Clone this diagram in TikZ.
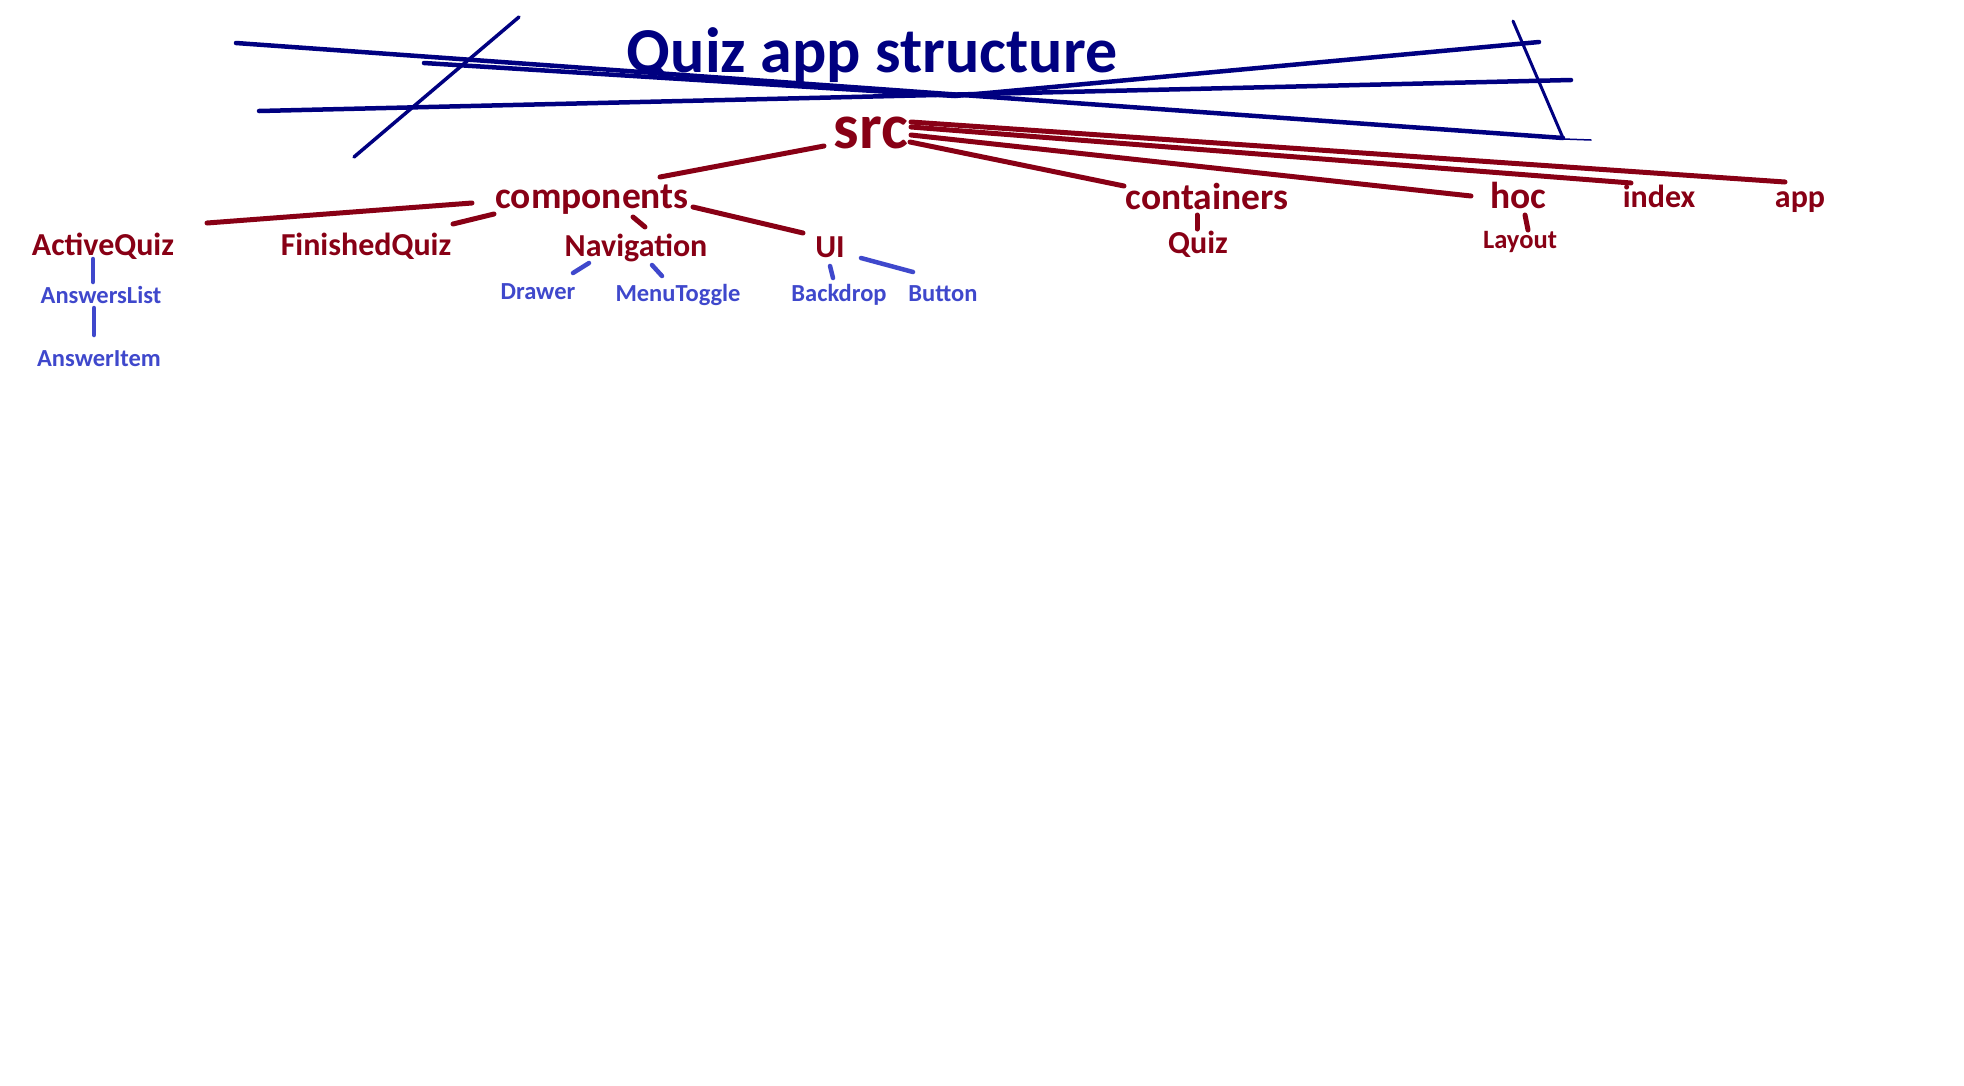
\documentclass[tikz,border=0pt]{standalone}
\usepackage{fontspec}
\setmainfont{Carlito}
\usepackage{tikz}
\definecolor{darkred}{HTML}{880015}
\definecolor{navy}{HTML}{000080}
\definecolor{leafblue}{HTML}{3F48CC}
\tikzstyle{folder} = [anchor=base, inner sep=0pt, text=darkred,
                      font=\bfseries\fontsize{32}{32}\selectfont]
\tikzstyle{bigfolder} = [folder, font=\bfseries\fontsize{37.5}{37.5}\selectfont]
\tikzstyle{leaf} = [anchor=base, inner sep=0pt, text=leafblue,
                    font=\bfseries\fontsize{24.5}{24.5}\selectfont]
\tikzstyle{branch} = [draw=darkred, line width=5pt, line cap=round]
\tikzstyle{twig} = [draw=leafblue, line width=4.5pt, line cap=round]
\tikzstyle{scribble} = [draw=navy, line width=4.5pt, line cap=round]

\begin{document}
\begin{tikzpicture}[x=1pt, y=-1pt]
    \fill [white] (0,0) rectangle (1964,1085);
    \useasboundingbox (0,0) rectangle (1964,1085);

    % title and crossing strokes
    \node [anchor=base, inner sep=0pt, text=navy,
           font=\bfseries\fontsize{64}{64}\selectfont] (title) at (872,72) {Quiz app structure};
    \draw [scribble] (236,43) -- (1563,138);
    \draw [scribble] (424,63) -- (955,96) -- (1539,42);
    \draw [scribble] (259,111) -- (1571,80);
    \draw [scribble, line width=3.5pt] (354,157) -- (519,17);
    \draw [scribble, line width=3pt] (1513,21) -- (1563,138);
    \draw [scribble, line width=1.5pt] (1563,139) -- (1591,140);

    % folders
    \node [folder, font=\bfseries\fontsize{64}{64}\selectfont] (src) at (871,148) {src};
    \node [bigfolder] (components) at (592,208) {components};
    \node [bigfolder] (containers) at (1207,209) {containers};
    \node [bigfolder] (hoc) at (1518,208) {hoc};
    \node [folder] (index) at (1659,207) {index};
    \node [folder] (app) at (1800,207) {app};
    \node [folder] (activequiz) at (103,255) {ActiveQuiz};
    \node [folder] (finishedquiz) at (366,255) {FinishedQuiz};
    \node [folder] (navigation) at (636,256) {Navigation};
    \node [folder] (ui) at (830,257) {UI};
    \node [folder] (quiz) at (1198,253) {Quiz};
    \node [folder, font=\bfseries\fontsize{26.5}{26.5}\selectfont] (layout) at (1520,248) {Layout};

    % components
    \node [leaf] (answerslist) at (101,303) {AnswersList};
    \node [leaf] (answeritem) at (99,366) {AnswerItem};
    \node [leaf] (drawer) at (538,299) {Drawer};
    \node [leaf] (menutoggle) at (678,301) {MenuToggle};
    \node [leaf] (backdrop) at (839,301) {Backdrop};
    \node [leaf] (button) at (943,301) {Button};

    \draw [branch] ([shift={(-47,-2)}]src.base) -- ([shift={(68,-31)}]components.base);
    \draw [branch] ([shift={(39,-6)}]src.base) -- ([shift={(-83,-23)}]containers.base);
    \draw [branch] ([shift={(40,-13)}]src.base) -- ([shift={(-47,-12)}]hoc.base);
    \draw [branch] ([shift={(40,-21)}]src.base) -- ([shift={(-28,-24)}]index.base);
    \draw [branch] ([shift={(40,-26)}]src.base) -- ([shift={(-15,-25)}]app.base);
    \draw [branch] ([shift={(-120,-5)}]components.base) -- ([shift={(104,-32)}]activequiz.base);
    \draw [branch] ([shift={(-98,6)}]components.base) -- ([shift={(87,-31)}]finishedquiz.base);
    \draw [branch] ([shift={(41,9)}]components.base) -- ([shift={(9,-29)}]navigation.base);
    \draw [branch] ([shift={(101,-1)}]components.base) -- ([shift={(-27,-24)}]ui.base);
    \draw [branch] ([shift={(-10,6)}]containers.base) -- ([shift={(-1,-24)}]quiz.base);
    \draw [branch] ([shift={(7,7)}]hoc.base) -- ([shift={(8,-18)}]layout.base);

    \draw [twig] ([shift={(-10,4)}]activequiz.base) -- ([shift={(-8,-21)}]answerslist.base);
    \draw [twig] ([shift={(-7,5)}]answerslist.base) -- ([shift={(-5,-31)}]answeritem.base);
    \draw [twig] ([shift={(-47,7)}]navigation.base) -- ([shift={(35,-26)}]drawer.base);
    \draw [twig] ([shift={(16,9)}]navigation.base) -- ([shift={(-16,-25)}]menutoggle.base);
    \draw [twig] ([shift={(0,9)}]ui.base) -- ([shift={(-6,-23)}]backdrop.base);
    \draw [twig] ([shift={(31,1)}]ui.base) -- ([shift={(-30,-29)}]button.base);
\end{tikzpicture}
\end{document}
